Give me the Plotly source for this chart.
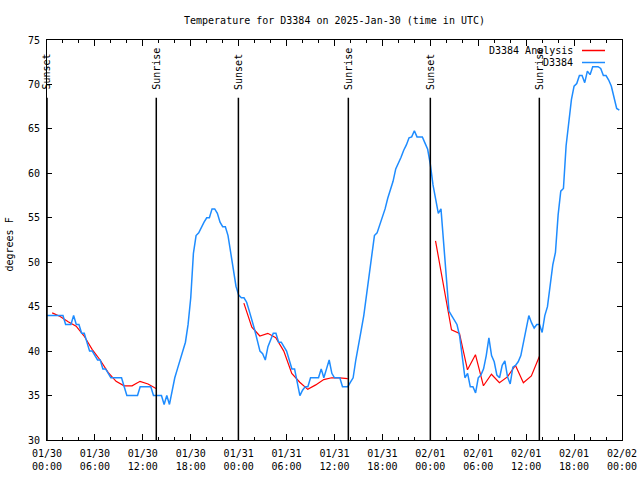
import pandas as pd
import plotly.graph_objects as go

START = "2025-01-30 00:00"

# Observed station temperature (deg F), every 20 minutes from 2025-01-30 00:00 UTC
obs_temp = [
    44, 44, 44,   44, 44, 44,   44, 43, 43,   43, 44, 43,   43, 42, 42,   41, 40, 40,
    39.5, 39, 39, 38, 38, 37.5, 37, 37, 37,   37, 37, 36,   35, 35, 35,   35, 35, 36,
    36, 36, 36,   36, 35, 35,   35, 35, 34,   35, 34, 35.5, 37, 38, 39,   40, 41, 43,
    46, 51, 53,   53.3, 54, 54.5, 55, 55, 56, 56, 55.5, 54.5, 54, 54, 53, 51, 49, 47.3,
    46.3, 46, 46, 45.5, 44.5, 43.5, 42.4, 41.2, 40, 39.7, 39, 40.5, 41.2, 42, 42, 41, 41, 40.5,
    40, 39, 38,   38, 36.5, 35, 35.6, 36, 36, 37, 37, 37,   37, 38, 37,   38, 39, 37.5,
    37, 37, 37,   36, 36, 36,   36.5, 37, 39, 40.5, 42.3, 44, 46.4, 48.3, 50.7, 53, 53.3, 54.2,
    55, 56, 57.2, 58.1, 59.1, 60.5, 61.1, 61.8, 62.6, 63.2, 64, 64.1, 64.8, 64.1, 64.1, 64.1, 63.4, 62.7,
    61, 58.7, 57.1, 55.5, 56, 52.5, 48, 44.5, 44, 43.5, 43, 41.7, 39, 37, 37.5, 36, 36, 35.3,
    37, 37.3, 38, 39.5, 41.5, 39.5, 38.8, 37.3, 37, 38.4, 38.9, 37.1, 36.3, 38.2, 38.4, 38.8, 39.5, 40.9,
    42.7, 44, 43.2, 42.6, 43, 43, 42.1, 44, 45, 47.5, 49.7, 51.1, 55.3, 58, 58.3, 63.1, 65.5, 68.3,
    69.8, 70.1, 71, 71, 70.2, 71.5, 71.1, 72, 72, 72, 71.8, 71, 71, 70.5, 69.8, 68.4, 67.3, 67.1,
]

# Analysis temperature (deg F), hourly during each night (sunset to sunrise)
night_starts = ["2025-01-30 00:39", "2025-01-31 00:39", "2025-02-01 00:39"]
analysis_night1 = [44.3, 43.9, 43.3, 42.8, 41.7, 40.2, 39.0, 37.6, 36.6, 36.1, 36.1, 36.6, 36.3, 35.8]
analysis_night2 = [45.4, 42.7, 41.7, 42.0, 41.5, 40.0, 37.5, 36.5, 35.7, 36.2, 36.8, 37.0, 37.0, 36.9]
analysis_night3 = [52.4, 47.4, 42.4, 42.0, 37.9, 39.6, 36.1, 37.4, 36.45, 37.1, 38.4, 36.45, 37.2, 39.4]

# Sun events (UTC)
event_times = ["2025-01-30 00:00", "2025-01-30 13:41", "2025-01-30 23:58",
               "2025-01-31 13:44", "2025-02-01 00:00", "2025-02-01 13:39"]
event_labels = ["Sunset", "Sunrise", "Sunset", "Sunrise", "Sunset", "Sunrise"]

series_names = ["D3384 Analysis", "D3384"]

X_RANGE = ["2025-01-30 00:00", "2025-02-02 00:00"]
Y_RANGE = [30, 75]
Y_TICKS = [30, 35, 40, 45, 50, 55, 60, 65, 70, 75]

FONT = "DejaVu Sans Mono"
BLUE = "#1e8cff"
RED = "#ff0000"
COLORS = [RED, BLUE]

obs_times = pd.date_range(START, periods=len(obs_temp), freq="20min")

ax_x, ax_y = [], []
for start, vals in zip(night_starts, [analysis_night1, analysis_night2, analysis_night3]):
    t = pd.date_range(start, periods=len(vals), freq="h")
    ax_x.extend(list(t))
    ax_y.extend(vals)
    ax_x.append(None)
    ax_y.append(None)

fig = go.Figure()
fig.add_trace(go.Scatter(x=ax_x, y=ax_y, mode="lines", name=series_names[0],
                         line=dict(color=RED, width=1.2), connectgaps=False, showlegend=False))
fig.add_trace(go.Scatter(x=obs_times, y=obs_temp, mode="lines", name=series_names[1],
                         line=dict(color=BLUE, width=1.5), showlegend=False))

for t, lab in zip(event_times, event_labels):
    fig.add_shape(type="line", xref="x", yref="y", x0=t, x1=t, y0=Y_RANGE[0], y1=68.5,
                  line=dict(color="black", width=1.5), layer="above")
    fig.add_annotation(x=t, y=69.2, xref="x", yref="y", text=lab, textangle=-90,
                       showarrow=False, xanchor="center", yanchor="bottom",
                       font=dict(family=FONT, size=10, color="black"))

# gnuplot-style key: text right-aligned, line sample to its right
PLOT_L, PLOT_T, PLOT_W, PLOT_H = 47, 40, 575, 400
def px(x):
    return (x - PLOT_L) / PLOT_W
def py(y):
    return 1 - (y - PLOT_T) / PLOT_H

for i, (name, col) in enumerate(zip(series_names, COLORS)):
    yy = 50.5 + 12 * i
    fig.add_annotation(x=px(575), y=py(yy), xref="paper", yref="paper", text=name,
                       showarrow=False, xanchor="right", yanchor="middle",
                       font=dict(family=FONT, size=10, color="black"))
    fig.add_shape(type="line", xref="paper", yref="paper", x0=px(582), x1=px(605),
                  y0=py(yy), y1=py(yy), line=dict(color=col, width=1.5))

# y axis label
fig.add_annotation(x=px(9.5), y=py(245), xref="paper", yref="paper", text="degrees F",
                   textangle=-90, showarrow=False, xanchor="center", yanchor="middle",
                   font=dict(family=FONT, size=10, color="black"))

fig.update_layout(
    width=640, height=480,
    margin=dict(l=47, r=18, t=40, b=40, autoexpand=False),
    paper_bgcolor="white", plot_bgcolor="white",
    font=dict(family=FONT, size=10, color="black"),
    title=dict(text="Temperature for D3384 on 2025-Jan-30 (time in UTC)",
               x=0.5, xref="paper", xanchor="center",
               y=1 - 20 / 480, yref="container", yanchor="middle",
               font=dict(family=FONT, size=10, color="black")),
    showlegend=False,
)
fig.update_xaxes(
    type="date", range=X_RANGE, tick0=X_RANGE[0], dtick=6 * 3600 * 1000,
    tickformat="%m/%d<br>%H:%M", ticks="inside", ticklen=6, tickcolor="black",
    ticklabelstandoff=4,
    showline=True, linecolor="black", linewidth=1, mirror="ticks",
    showgrid=False, zeroline=False, automargin=False,
    minor=dict(dtick=2 * 3600 * 1000, ticks="inside", ticklen=3, tickcolor="black", showgrid=False),
)
fig.update_yaxes(
    range=Y_RANGE, tickvals=Y_TICKS, ticks="inside", ticklen=5, tickcolor="black",
    ticklabelstandoff=4,
    showline=True, linecolor="black", linewidth=1, mirror="ticks",
    showgrid=False, zeroline=False, automargin=False,
)

fig.write_html("out.html", config={"displayModeBar": False},
               post_script="document.body.style.margin='0';")
